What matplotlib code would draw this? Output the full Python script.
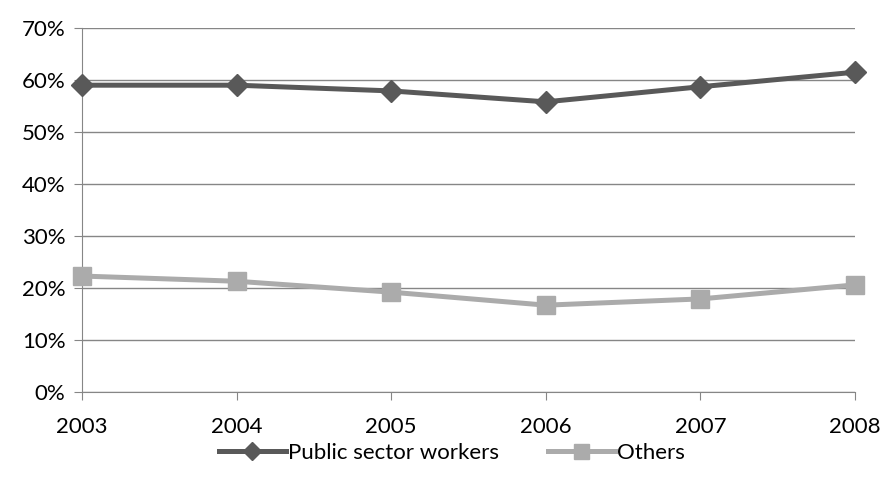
import matplotlib
matplotlib.use("Agg")
import matplotlib.pyplot as plt
from matplotlib.ticker import PercentFormatter

years = ["2003", "2004", "2005", "2006", "2007", "2008"]
public = [59.0, 59.0, 57.9, 55.8, 58.7, 61.5]
others = [22.3, 21.3, 19.2, 16.7, 17.9, 20.6]

plt.rcParams['font.family'] = ['Lato', 'DejaVu Sans']
fig = plt.figure(figsize=(8.86, 4.91), dpi=100)
ax = fig.add_axes([0.0926, 0.2016, 0.965 - 0.0926, 0.943 - 0.2016])

x = list(range(len(years)))
ax.plot(x, public, color="#595959", lw=3.6, marker="D", ms=11.5, label="Public sector workers", zorder=3)
ax.plot(x, others, color="#ABABAB", lw=3.6, marker="s", ms=13.5, label="Others", zorder=3)

ax.set_xlim(0, len(years) - 1)
ax.set_ylim(0, 70)
ax.set_yticks(range(0, 71, 10))
ax.yaxis.set_major_formatter(PercentFormatter(decimals=0))
ax.set_xticks(x)
ax.set_xticklabels(years)
ax.yaxis.grid(True, color="#868686", lw=1)
ax.set_axisbelow(True)
for s in ["top", "right"]:
    ax.spines[s].set_visible(False)
for s in ["left", "bottom"]:
    ax.spines[s].set_color("#868686")
ax.tick_params(axis="both", colors="#868686", labelcolor="black", labelsize=16, length=6)
ax.tick_params(axis="x", pad=12)
ax.tick_params(axis="y", pad=6)
for l in ax.lines:
    l.set_clip_on(False)

leg = fig.legend(loc="center", bbox_to_anchor=(0.51, 0.077), ncol=2, frameon=False,
                 fontsize=16, handlelength=3.0, columnspacing=2.2, handletextpad=0.1,
                 markerscale=0.8)

fig.savefig("out.png", dpi=100)
